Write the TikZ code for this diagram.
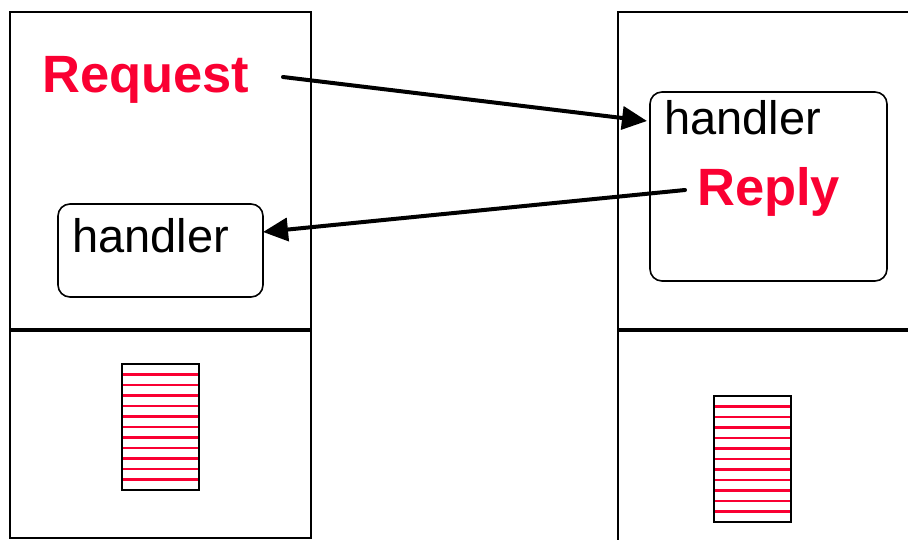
\documentclass[tikz,border=0pt]{standalone}
\usepackage{fontspec}
\setmainfont{Liberation Sans}
\usetikzlibrary{arrows.meta}
\definecolor{myred}{RGB}{250,0,50}
\tikzset{
  panel/.style={draw=black, line width=2.2pt},
  hbox/.style={draw=black, line width=1.6pt, rounded corners=12pt},
  stripebox/.style={draw=black, line width=2.2pt},
  stripe/.style={draw=myred, line width=2.6pt},
  redlabel/.style={text=myred, font=\fontsize{52.5}{60}\selectfont\bfseries, anchor=base west, inner sep=0pt},
  blacklabel/.style={text=black, font=\fontsize{47}{56}\selectfont, anchor=base west, inner sep=0pt},
  msg/.style={line width=4pt, line cap=round, -{Triangle[length=25pt,width=23pt]}}
}
\begin{document}
\begin{tikzpicture}[x=1pt,y=-1pt]
\useasboundingbox (0,0) rectangle (908,540);
\clip (0,0) rectangle (908,540);
% left machine
\draw[panel] (10,12) rectangle (311,329);
\draw[panel] (10,331) rectangle (311,538);
% right machine
\draw[panel] (618,12) rectangle (930,329);
\draw[panel] (618,331) rectangle (930,560);
% handler boxes
\draw[hbox] (58,204) rectangle (263,297);
\draw[hbox] (650,92) rectangle (887,281);
% striped buffers
\foreach \x/\y in {122/364, 714/396} {
  \foreach \k in {1,...,11} {
    \draw[stripe] (\x,\y+10.5*\k) -- (\x+77,\y+10.5*\k);
  }
  \draw[stripebox] (\x,\y) rectangle (\x+77,\y+126);
}
% labels
\node[redlabel] (req) at (42,93) {Request};
\node[blacklabel] (h1) at (72,253) {handler};
\node[blacklabel] (h2) at (664,135) {handler};
\node[redlabel] (rep) at (697,206) {Reply};
% connectors
\coordinate (reqend) at (283,77);
\coordinate (h2in) at (647,121);
\coordinate (repend) at (685,190);
\coordinate (h1in) at (263,232);
\draw[msg] (reqend) -- (h2in);
\draw[msg] (repend) -- (h1in);
\end{tikzpicture}
\end{document}
